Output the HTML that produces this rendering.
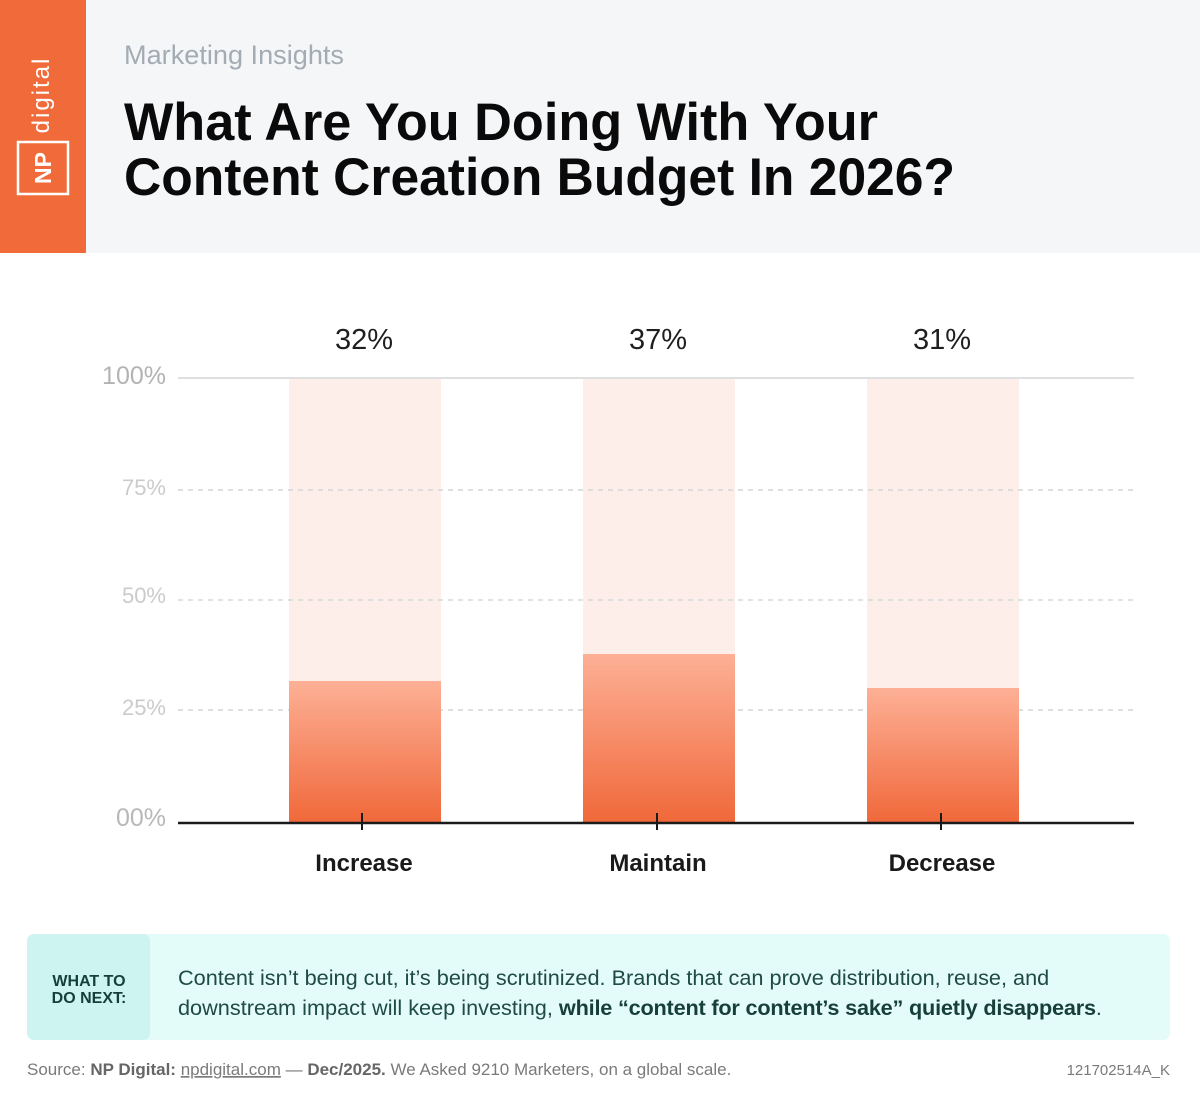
<!DOCTYPE html>
<html>
<head>
<meta charset="utf-8">
<style>
html,body{margin:0;padding:0;background:#fff;}
svg{display:block;}
text{font-family:"Liberation Sans",Arial,sans-serif;}
</style>
</head>
<body>
<svg width="1200" height="1100" viewBox="0 0 1200 1100" xmlns="http://www.w3.org/2000/svg">
  <defs>
    <linearGradient id="bar" x1="0" y1="0" x2="0" y2="1">
      <stop offset="0" stop-color="#fdb096"/>
      <stop offset="1" stop-color="#f0683a"/>
    </linearGradient>
  </defs>
  <rect x="0" y="0" width="1200" height="1100" fill="#ffffff"/>
  <!-- Header -->
  <rect x="0" y="0" width="1200" height="253" fill="#f5f6f8"/>
  <rect x="0" y="0" width="86" height="253" fill="#f06a3a"/>
  <!-- Logo -->
  <rect x="18" y="142" width="50" height="52" fill="none" stroke="#ffffff" stroke-width="2.5"/>
  <text transform="translate(51,168) rotate(-90)" text-anchor="middle" font-size="23" font-weight="bold" fill="#ffffff">NP</text>
  <text transform="translate(49,95) rotate(-90)" text-anchor="middle" font-size="24" letter-spacing="2" fill="#ffffff">digital</text>

  <text x="124" y="64" font-size="27" fill="#a3abb3" textLength="220" lengthAdjust="spacingAndGlyphs">Marketing Insights</text>
  <text x="124" y="140" font-size="53" font-weight="bold" fill="#0a0a0a" textLength="754" lengthAdjust="spacingAndGlyphs">What Are You Doing With Your</text>
  <text x="124" y="195" font-size="53" font-weight="bold" fill="#0a0a0a" textLength="831" lengthAdjust="spacingAndGlyphs">Content Creation Budget In 2026?</text>

  <!-- Chart backgrounds -->
  <rect x="289" y="378" width="152" height="303" fill="#fdeee9"/>
  <rect x="583" y="378" width="152" height="276" fill="#fdeee9"/>
  <rect x="867" y="378" width="152" height="310" fill="#fdeee9"/>

  <!-- gridlines -->
  <line x1="178" y1="378" x2="1134" y2="378" stroke="#dedfe0" stroke-width="2"/>
  <line x1="178" y1="490" x2="1134" y2="490" stroke="#d3d6d6" stroke-width="1.5" stroke-dasharray="5 5"/>
  <line x1="178" y1="600" x2="1134" y2="600" stroke="#d3d9d9" stroke-width="1.5" stroke-dasharray="5 5"/>
  <line x1="178" y1="710" x2="1134" y2="710" stroke="#d3d6d6" stroke-width="1.5" stroke-dasharray="5 5"/>

  <!-- bars -->
  <rect x="289" y="681" width="152" height="142" fill="url(#bar)"/>
  <rect x="583" y="654" width="152" height="169" fill="url(#bar)"/>
  <rect x="867" y="688" width="152" height="135" fill="url(#bar)"/>

  <!-- axis -->
  <line x1="178" y1="823" x2="1134" y2="823" stroke="#1a1a1a" stroke-width="2.5"/>
  <line x1="362" y1="813" x2="362" y2="830" stroke="#1a1a1a" stroke-width="2"/>
  <line x1="657" y1="813" x2="657" y2="830" stroke="#1a1a1a" stroke-width="2"/>
  <line x1="941" y1="813" x2="941" y2="830" stroke="#1a1a1a" stroke-width="2"/>

  <!-- y labels -->
  <text x="166" y="384" font-size="25" fill="#b3b3b3" text-anchor="end">100%</text>
  <text x="166" y="495" font-size="22" fill="#cbcbcb" text-anchor="end">75%</text>
  <text x="166" y="603" font-size="22" fill="#cbcbcb" text-anchor="end">50%</text>
  <text x="166" y="715" font-size="22" fill="#cbcbcb" text-anchor="end">25%</text>
  <text x="166" y="826" font-size="25" fill="#b8b8b8" text-anchor="end">00%</text>

  <!-- value labels -->
  <text x="364" y="349" font-size="29" fill="#1f1f1f" text-anchor="middle">32%</text>
  <text x="658" y="349" font-size="29" fill="#1f1f1f" text-anchor="middle">37%</text>
  <text x="942" y="349" font-size="29" fill="#1f1f1f" text-anchor="middle">31%</text>

  <!-- x labels -->
  <text x="364" y="871" font-size="24" font-weight="bold" fill="#1a1a1a" text-anchor="middle">Increase</text>
  <text x="658" y="871" font-size="24" font-weight="bold" fill="#1a1a1a" text-anchor="middle">Maintain</text>
  <text x="942" y="871" font-size="24" font-weight="bold" fill="#1a1a1a" text-anchor="middle">Decrease</text>

  <!-- bottom callout -->
  <rect x="27" y="934" width="1143" height="106" rx="7" fill="#e3fbf9"/>
  <rect x="27" y="934" width="123" height="106" rx="7" fill="#cdf4f1"/>
  <text x="89" y="986" font-size="16" font-weight="bold" fill="#153f3b" text-anchor="middle">WHAT TO</text>
  <text x="89" y="1003" font-size="16" font-weight="bold" fill="#153f3b" text-anchor="middle">DO NEXT:</text>
  <text x="178" y="985" font-size="21.7" fill="#1f4a45">Content isn’t being cut, it’s being scrutinized. Brands that can prove distribution, reuse, and</text>
  <text x="178" y="1015" font-size="21.7" fill="#1f4a45">downstream impact will keep investing, <tspan font-weight="bold" fill="#173f3a" letter-spacing="-0.2">while “content for content’s sake” quietly disappears</tspan>.</text>

  <!-- source -->
  <text x="27" y="1075" font-size="17" fill="#7a7a7a">Source: <tspan font-weight="bold" fill="#666666">NP Digital:</tspan> <tspan text-decoration="underline">npdigital.com</tspan> — <tspan font-weight="bold" fill="#666666">Dec/2025.</tspan> We Asked 9210 Marketers, on a global scale.</text>
  <text x="1170" y="1075" font-size="15" fill="#7a7a7a" text-anchor="end">121702514A_K</text>
</svg>
</body>
</html>
